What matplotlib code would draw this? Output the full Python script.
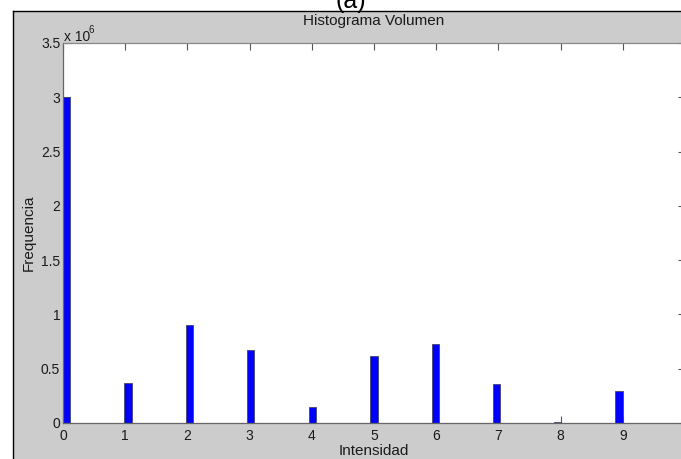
import matplotlib
matplotlib.use("Agg")
import matplotlib.pyplot as plt
from matplotlib.patches import Rectangle
from matplotlib.lines import Line2D
from matplotlib.ticker import FuncFormatter

plt.rcParams['font.family'] = ['Liberation Sans', 'DejaVu Sans']

# Data
intensity_ticks = [0, 1, 2, 3, 4, 5, 6, 7, 8, 9]
bin_centers = [0.055, 1.045, 2.03, 3.02, 4.01, 5.0, 5.99, 6.97, 7.95, 8.94]
counts = [3.0e6, 0.371e6, 0.902e6, 0.672e6, 0.150e6, 0.617e6, 0.730e6, 0.362e6, 0.012e6, 0.297e6]
y_ticks = [0, 0.5e6, 1.0e6, 1.5e6, 2.0e6, 2.5e6, 3.0e6, 3.5e6]

W, H = 681, 459
fig = plt.figure(figsize=(W / 100, H / 100), dpi=100, facecolor='#cccccc')

# white strip above / left of the cropped MATLAB figure window
bx, by = 13 / W, 1 - 11 / H
fig.add_artist(Rectangle((0, by), 1, 1 - by, transform=fig.transFigure,
                         facecolor='white', edgecolor='none', zorder=0))
fig.add_artist(Rectangle((0, 0), bx, 1, transform=fig.transFigure,
                         facecolor='white', edgecolor='none', zorder=0))
fig.add_artist(Line2D([bx, bx], [0, by], transform=fig.transFigure, color='black', lw=1.0, zorder=0.5))
fig.add_artist(Line2D([bx, 1], [by, by], transform=fig.transFigure, color='black', lw=1.0, zorder=0.5))

left, right, top, bottom = 63, 685, 43, 423
ax = fig.add_axes([left / W, (H - bottom) / H, (right - left) / W, (bottom - top) / H])
ax.set_facecolor('white')

ax.bar(bin_centers, counts, width=0.115, color='#0000ff', edgecolor='#45456e',
       linewidth=0.6, zorder=2)

ax.set_xlim(0, 10)
ax.set_ylim(0, 3.5e6)
ax.set_xticks(intensity_ticks)
ax.set_yticks(y_ticks)
ax.yaxis.set_major_formatter(FuncFormatter(lambda v, p: f"{v / 1e6:g}"))
ax.set_axisbelow(True)

ax.tick_params(direction='in', top=True, right=True, length=5, width=0.8,
               color='#555555', labelsize=10, labelcolor='#1a1a1a')
ax.tick_params(axis='x', pad=4)
ax.tick_params(axis='y', pad=2)
for s in ax.spines.values():
    s.set_color('#666666')
    s.set_linewidth(0.9)
ax.spines['top'].set_color('#888888')
ax.spines['right'].set_visible(False)

ax.set_title('Histograma Volumen', fontsize=11, color='#1a1a1a', pad=13)
ax.set_xlabel('Intensidad', fontsize=11, color='#1a1a1a', labelpad=1)
ax.set_ylabel('Frequencia', fontsize=11, color='#1a1a1a', labelpad=4)

# MATLAB-style exponent label
fig.text(64 / W, 1 - 41 / H, 'x 10', fontsize=10, color='#1a1a1a', va='baseline', ha='left')
fig.text(89 / W, 1 - 33 / H, '6', fontsize=7, color='#1a1a1a', va='baseline', ha='left')

# panel label (cut at top, as in the reference)
fig.text(351 / W, 1 - 8 / H, '(a)', fontsize=18, color='black', va='baseline', ha='center', zorder=0.2)

fig.savefig('out.png', dpi=100, facecolor=fig.get_facecolor())
